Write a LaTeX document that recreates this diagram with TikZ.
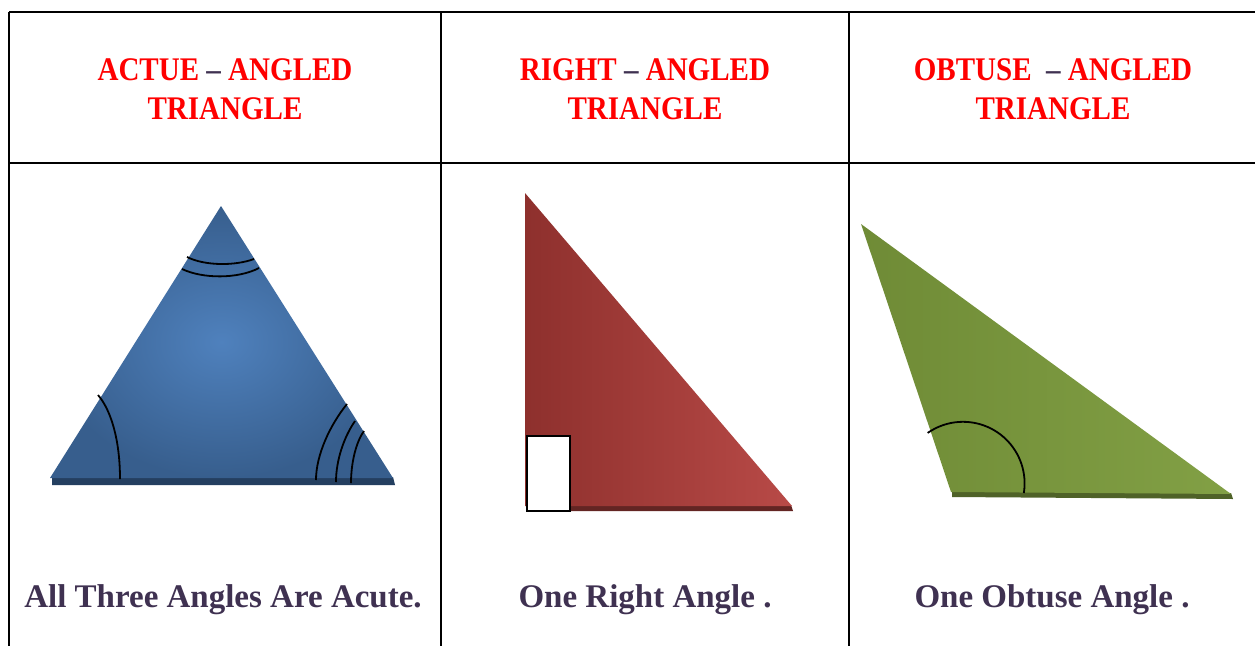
\documentclass[tikz,border=0pt]{standalone}
\usepackage{fontspec}
\setmainfont{Liberation Serif}
\newfontfamily\hdfont[FakeStretch=0.88]{Liberation Serif}
\definecolor{hdred}{HTML}{FF0000}
\definecolor{txtpurple}{HTML}{3F3151}
\definecolor{blueL}{HTML}{4F81BD}
\definecolor{blueD}{HTML}{375E8D}
\definecolor{blueS}{HTML}{243F60}
\definecolor{redL}{HTML}{C0504D}
\definecolor{redD}{HTML}{8E302D}
\definecolor{redR}{HTML}{B84A47}
\definecolor{redS}{HTML}{632523}
\definecolor{greenL}{HTML}{9BBB59}
\definecolor{greenD}{HTML}{6F8B36}
\definecolor{greenR}{HTML}{82A045}
\definecolor{greenS}{HTML}{4F6228}
\begin{document}
\begin{tikzpicture}[x=1pt,y=-1pt,
  gridline/.style={line width=2pt,black},
  hdtext/.style={inner sep=0pt,anchor=base,text=hdred,font=\hdfont\bfseries\fontsize{33}{39}\selectfont},
  captext/.style={inner sep=0pt,anchor=base,text=txtpurple,font=\bfseries\fontsize{33}{40}\selectfont},
  anglearc/.style={line width=1.8pt,black}]
\useasboundingbox (0,0) rectangle (1255,646);
\fill[white] (0,0) rectangle (1255,646);

% table grid
\coordinate (tl) at (9,12);
\coordinate (tr) at (1255,12);
\coordinate (ml) at (9,163);
\coordinate (mr) at (1255,163);
\coordinate (c1t) at (441,12);
\coordinate (c1b) at (441,646);
\coordinate (c2t) at (849,12);
\coordinate (c2b) at (849,646);
\coordinate (bl) at (9,646);
\draw[gridline] (tl) -- (tr);
\draw[gridline] (ml) -- (mr);
\draw[gridline] (tl) -- (bl);
\draw[gridline] (c1t) -- (c1b);
\draw[gridline] (c2t) -- (c2b);

% headers
\node[hdtext] (h1a) at (225,80) {ACTUE {\color{txtpurple}–} ANGLED};
\node[hdtext] (h1b) at (225,119) {TRIANGLE};
\node[hdtext] (h2a) at (645,80) {RIGHT {\color{txtpurple}–} ANGLED};
\node[hdtext] (h2b) at (645,119) {TRIANGLE};
\node[hdtext] (h3a) at (1053,80) {OBTUSE\ \ {\color{txtpurple}–} ANGLED};
\node[hdtext] (h3b) at (1053,119) {TRIANGLE};

% captions
\node[captext] (t1) at (223,607) {All Three Angles Are Acute.};
\node[captext] (t2) at (645,607) {One Right Angle .};
\node[captext] (t3) at (1052,607) {One Obtuse Angle .};

% acute triangle
\fill[blueS] (52,477) -- (393,477) -- (395,485) -- (52,485) -- cycle;
\shade[inner color=blueL, outer color=blueD] (221,206) -- (393,478) -- (50,478) -- cycle;
\draw[anglearc] (187,257) .. controls (205,266) and (235,266) .. (254,259);
\draw[anglearc] (182,269) .. controls (203,279) and (238,279) .. (259,268);
\draw[anglearc] (98,395) .. controls (111,410) and (120,440) .. (120,479);
\draw[anglearc] (347,404) .. controls (330,425) and (316,455) .. (316,480);
\draw[anglearc] (355,421) .. controls (344,437) and (336,460) .. (336,482);
\draw[anglearc] (364,431) .. controls (356,442) and (351,463) .. (351,483);

% right triangle
\fill[redS] (527,505) -- (791,505) -- (793,511) -- (527,511) -- cycle;
\shade[left color=redD, middle color=redL, right color=redR] (525,193) -- (792,506) -- (525,506) -- cycle;
\draw[line width=1.6pt, fill=white] (527,436) rectangle (570,511);

% obtuse triangle
\fill[greenS] (952,491) -- (1231,493) -- (1233,499) -- (952,497) -- cycle;
\shade[left color=greenD, middle color=greenL, right color=greenR] (861,224) -- (1231,494) -- (951,492) -- cycle;
\draw[anglearc] plot[domain=-125:9, samples=40, smooth] ({963+61.6*cos(\x)},{483.4+61.6*sin(\x)});
\end{tikzpicture}
\end{document}
